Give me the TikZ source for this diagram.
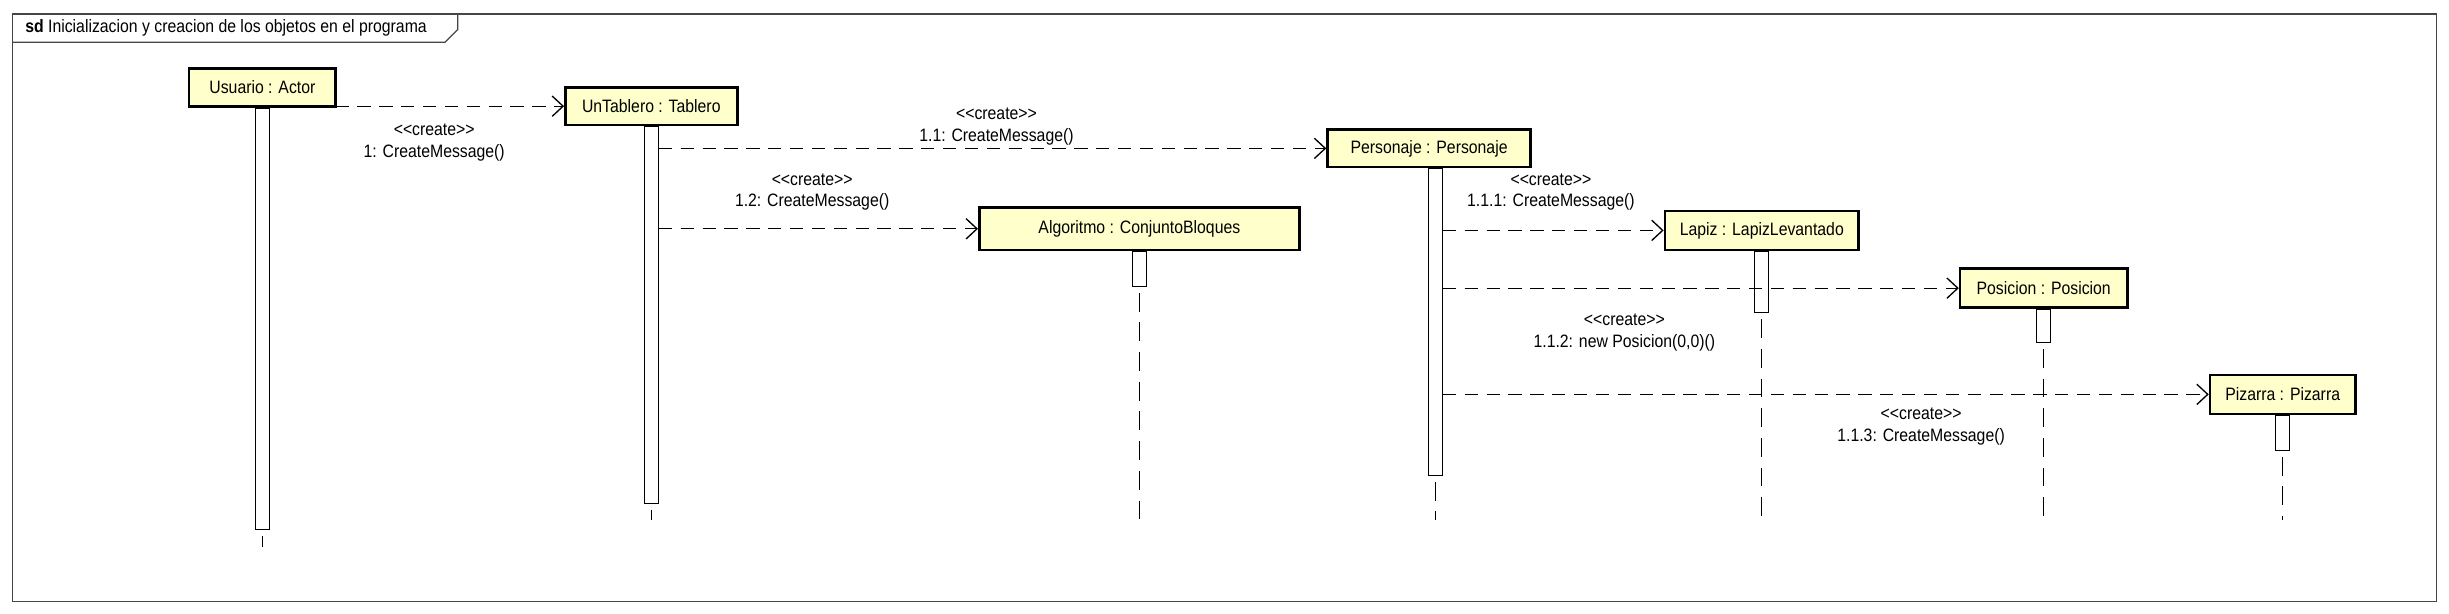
\documentclass[tikz,border=0pt]{standalone}
\usepackage{fontspec}
\setmainfont{Liberation Sans}[FakeStretch=0.88]
\usetikzlibrary{arrows.meta}
\definecolor{objfill}{RGB}{255,255,204}
\definecolor{framegray}{RGB}{70,70,70}
\newcommand{\crea}{<{}<create>{}>}

\begin{document}
\begin{tikzpicture}[x=1pt,y=-1pt,
  obj/.style={draw,line width=1.7pt,fill=objfill,inner sep=0pt,minimum height=24pt,font=\fontsize{11.5}{13}\selectfont},
  act/.style={draw,line width=0.6pt,fill=white,inner sep=0pt,minimum width=9pt,anchor=north},
  msg/.style={dash pattern=on 8.5pt off 5.5pt,line width=0.85pt,-{Straight Barb[length=7pt,width=13pt]}},
  life/.style={line width=0.75pt,dash pattern=on 12pt off 7pt,dash phase=15pt},
  lbl/.style={align=center,font=\fontsize{11.5}{14}\selectfont,inner sep=0pt}]
\useasboundingbox (0,0) rectangle (1568,393);
\draw [framegray,line width=0.8pt] (8,9) rectangle (1560,385);
\draw [framegray,line width=0.8pt] (8,27) -- (285,27) -- (293,19) -- (293,9);
\node [anchor=west,font=\fontsize{11.5}{13}\selectfont,inner sep=0pt] (titulo) at (16,18) {\textbf{sd} Inicializacion y creacion de los objetos en el programa};
\node [obj,minimum width=94pt] (usuario) at (168,56) {Usuario : Actor};
\node [obj,minimum width=110pt] (untablero) at (417,68) {UnTablero : Tablero};
\node [obj,minimum width=205pt,minimum height=27pt] (algoritmo) at (729.5,146.5) {Algoritmo : ConjuntoBloques};
\node [obj,minimum width=130pt] (personaje) at (915,95) {Personaje : Personaje};
\node [obj,minimum width=124pt,minimum height=25pt] (lapiz) at (1128,147.5) {Lapiz : LapizLevantado};
\node [obj,minimum width=107pt,minimum height=25pt] (posicion) at (1308.5,184.5) {Posicion : Posicion};
\node [obj,minimum width=93pt,minimum height=25pt] (pizarra) at (1461.5,252.5) {Pizarra : Pizarra};
\node [act,minimum height=270pt] (usuarioact) at (usuario.south) {};
\node [act,minimum height=241pt] (untableroact) at (untablero.south) {};
\node [act,minimum height=22pt] (algoritmoact) at (algoritmo.south) {};
\node [act,minimum height=196pt,xshift=4pt] (personajeact) at (personaje.south) {};
\node [act,minimum height=39pt] (lapizact) at (lapiz.south) {};
\node [act,minimum height=21pt] (posicionact) at (posicion.south) {};
\node [act,minimum height=22pt] (pizarraact) at (pizarra.south) {};
\coordinate (usuarioend) at (168,350);
\coordinate (untableroend) at (417,333);
\coordinate (algoritmoend) at (729.5,333);
\coordinate (personajeend) at (919,333);
\coordinate (lapizend) at (1128,333);
\coordinate (posicionend) at (1308.5,333);
\coordinate (pizarraend) at (1461.5,333);
\draw [life] (usuarioact.south) -- (usuarioend);
\draw [life] (untableroact.south) -- (untableroend);
\draw [life] (algoritmoact.south) -- (algoritmoend);
\draw [life] (personajeact.south) -- (personajeend);
\draw [life] (lapizact.south) -- (lapizend);
\draw [life] (posicionact.south) -- (posicionend);
\draw [life] (pizarraact.south) -- (pizarraend);
\draw [msg] (usuarioact.east |- untablero.west) -- (untablero.west);
\draw [msg] (untableroact.east |- personaje.west) -- (personaje.west);
\draw [msg] (untableroact.east |- algoritmo.west) -- (algoritmo.west);
\draw [msg] (personajeact.east |- lapiz.west) -- (lapiz.west);
\draw [msg] (personajeact.east |- posicion.west) -- (posicion.west);
\draw [msg] (personajeact.east |- pizarra.west) -- (pizarra.west);
\node [lbl] (lblcrea1) at (278,91) {\crea\\1: CreateMessage()};
\node [lbl] (lblcrea11) at (638,81) {\crea\\1.1: CreateMessage()};
\node [lbl] (lblcrea12) at (520,123) {\crea\\1.2: CreateMessage()};
\node [lbl] (lblcrea111) at (993,123) {\crea\\1.1.1: CreateMessage()};
\node [lbl] (lblcrea112) at (1040,213) {\crea\\1.1.2: new Posicion(0,0)()};
\node [lbl] (lblcrea113) at (1230,273) {\crea\\1.1.3: CreateMessage()};
\end{tikzpicture}
\end{document}
